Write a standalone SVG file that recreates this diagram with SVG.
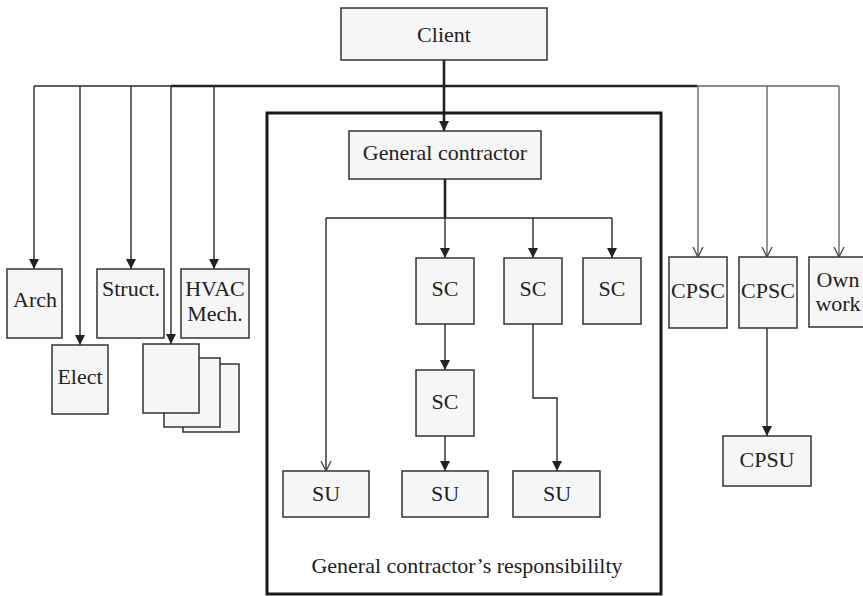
<svg xmlns="http://www.w3.org/2000/svg" width="863" height="596" viewBox="0 0 863 596">
<defs>
<style>
.box{fill:#f6f6f6;stroke:#333;stroke-width:1.5}
.t{font-family:"Liberation Serif","Times New Roman",serif;font-size:22px;fill:#222;text-anchor:middle}
.c{fill:none;stroke:#2a2a2a;stroke-width:1.4}
.g{fill:none;stroke:#666;stroke-width:1.4}
.k{fill:none;stroke:#222;stroke-width:2.6}
</style>
<marker id="af" markerUnits="userSpaceOnUse" markerWidth="10" markerHeight="11" refX="10" refY="5" orient="auto">
<path d="M0,0 L10,5 L0,10 z" fill="#222"/>
</marker>
<marker id="ao" markerUnits="userSpaceOnUse" markerWidth="12" markerHeight="12" refX="10.5" refY="6" orient="auto">
<path d="M0.5,1 L10.5,6 L0.5,11" fill="none" stroke="#444" stroke-width="1.3"/>
</marker>
</defs>
<rect width="863" height="596" fill="#fff"/>

<g id="connectors">
<path class="c" d="M34,86 H171"/>
<path class="k" d="M171,86 H697"/>
<path class="g" d="M697,86 H839"/>
<path class="k" d="M444,60 V131" marker-end="url(#af)"/>
<path class="c" d="M34,86 V269" marker-end="url(#af)"/>
<path class="c" d="M80,86 V345" marker-end="url(#af)"/>
<path class="c" d="M131,86 V269" marker-end="url(#af)"/>
<path class="c" d="M171,86 V344" marker-end="url(#af)"/>
<path class="c" d="M214,86 V269" marker-end="url(#af)"/>
<path class="g" d="M698,86 V257" marker-end="url(#ao)"/>
<path class="g" d="M767,86 V257" marker-end="url(#ao)"/>
<path class="g" d="M839,86 V257" marker-end="url(#ao)"/>
<path class="c" d="M767,328 V436" marker-end="url(#af)"/>
<path class="k" d="M445,179 V218"/>
<path class="c" d="M326,218 H612"/>
<path class="c" d="M326,218 V471" marker-end="url(#ao)"/>
<path class="c" d="M445,218 V258" marker-end="url(#af)"/>
<path class="c" d="M533,218 V258" marker-end="url(#af)"/>
<path class="c" d="M612,218 V258" marker-end="url(#af)"/>
<path class="c" d="M445,324 V370" marker-end="url(#af)"/>
<path class="c" d="M445,436 V471" marker-end="url(#af)"/>
<path class="c" d="M533,324 V398 H557 V471" marker-end="url(#af)"/>
</g>

<g id="gc-responsibility">
<rect x="267" y="113" width="394" height="481" fill="none" stroke="#1a1a1a" stroke-width="3"/>
<text class="t" x="467" y="573">General contractor’s responsibililty</text>
</g>

<g id="client"><rect class="box" x="341" y="8" width="206" height="52"/><text class="t" x="444" y="42">Client</text></g>
<g id="general-contractor"><rect class="box" x="349" y="131" width="192" height="48"/><text class="t" x="445" y="160">General contractor</text></g>

<g id="arch"><rect class="box" x="7" y="269" width="55" height="69"/><text class="t" x="35" y="307">Arch</text></g>
<g id="elect"><rect class="box" x="52" y="345" width="56" height="69"/><text class="t" x="80" y="384">Elect</text></g>
<g id="struct"><rect class="box" x="97" y="269" width="67" height="69"/><text class="t" x="131" y="296">Struct.</text></g>
<g id="hvac"><rect class="box" x="181" y="269" width="68" height="69"/><text class="t" x="215" y="296">HVAC</text><text class="t" x="215" y="321">Mech.</text></g>
<g id="others">
<rect class="box" x="183" y="364" width="56" height="68"/>
<rect class="box" x="164" y="358" width="56" height="69"/>
<rect class="box" x="143" y="344" width="56" height="69"/>
</g>

<g id="sc1"><rect class="box" x="416" y="258" width="58" height="66"/><text class="t" x="445" y="296">SC</text></g>
<g id="sc2"><rect class="box" x="504" y="258" width="58" height="66"/><text class="t" x="533" y="296">SC</text></g>
<g id="sc3"><rect class="box" x="583" y="258" width="58" height="66"/><text class="t" x="612" y="296">SC</text></g>
<g id="sc4"><rect class="box" x="416" y="370" width="58" height="66"/><text class="t" x="445" y="409">SC</text></g>

<g id="su1"><rect class="box" x="283" y="471" width="86" height="46"/><text class="t" x="326" y="501">SU</text></g>
<g id="su2"><rect class="box" x="402" y="471" width="86" height="46"/><text class="t" x="445" y="501">SU</text></g>
<g id="su3"><rect class="box" x="513" y="471" width="87" height="46"/><text class="t" x="557" y="501">SU</text></g>

<g id="cpsc1"><rect class="box" x="669" y="257" width="58" height="71"/><text class="t" x="698" y="298">CPSC</text></g>
<g id="cpsc2"><rect class="box" x="739" y="257" width="58" height="71"/><text class="t" x="768" y="298">CPSC</text></g>
<g id="own-work"><rect class="box" x="809" y="257" width="60" height="70"/><text class="t" x="838" y="287">Own</text><text class="t" x="838" y="311">work</text></g>
<g id="cpsu"><rect class="box" x="723" y="436" width="88" height="50"/><text class="t" x="767" y="467">CPSU</text></g>
</svg>
